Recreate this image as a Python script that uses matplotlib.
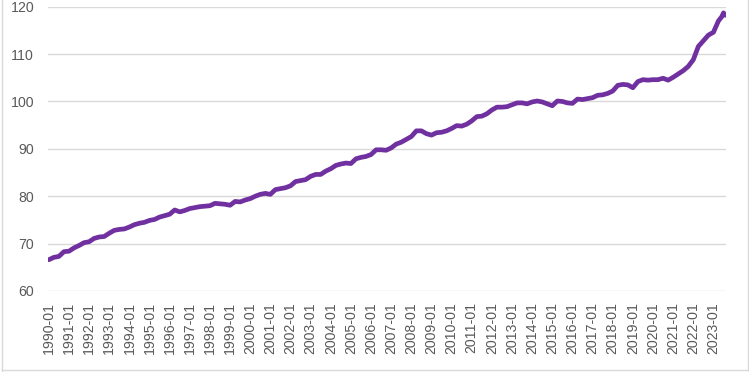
import matplotlib
matplotlib.use("Agg")
import matplotlib.pyplot as plt
from matplotlib.lines import Line2D

# ---- data ----
first_month = "1990-01"
last_month = "2023-08"

sample_months = []
for yr in range(1990, 2023 + 1):
    for mo in ("01", "04", "07", "10"):
        sample_months.append(f"{yr}-{mo}")
sample_months = sample_months[:-1]  # drop 2023-10
sample_months += ["2023-06", "2023-08"]
sample_months = sorted(set(sample_months))

values = [
    66.6, 67.1, 67.3, 68.3,   # 1990
    68.4, 69.1, 69.6, 70.2,   # 1991
    70.4, 71.1, 71.4, 71.5,   # 1992
    72.2, 72.8, 73.0, 73.1,   # 1993
    73.5, 74.0, 74.3, 74.5,   # 1994
    74.9, 75.1, 75.6, 75.9,   # 1995
    76.2, 77.1, 76.7, 77.0,   # 1996
    77.4, 77.6, 77.8, 77.9,   # 1997
    78.0, 78.5, 78.4, 78.3,   # 1998
    78.1, 78.9, 78.8, 79.2,   # 1999
    79.5, 80.0, 80.4, 80.6,   # 2000
    80.4, 81.4, 81.6, 81.8,   # 2001
    82.2, 83.1, 83.3, 83.5,   # 2002
    84.2, 84.6, 84.6, 85.3,   # 2003
    85.8, 86.5, 86.8, 87.0,   # 2004
    86.9, 87.9, 88.2, 88.4,   # 2005
    88.8, 89.8, 89.8, 89.7,   # 2006
    90.2, 91.0, 91.4, 92.0,   # 2007
    92.6, 93.8, 93.8, 93.2,   # 2008
    92.9, 93.4, 93.5, 93.8,   # 2009
    94.3, 94.9, 94.8, 95.2,   # 2010
    95.9, 96.8, 96.9, 97.4,   # 2011
    98.2, 98.8, 98.8, 98.9,   # 2012
    99.3, 99.7, 99.7, 99.5,   # 2013
    99.9, 100.1, 99.9, 99.5,  # 2014
    99.1, 100.1, 100.0, 99.7, # 2015
    99.6, 100.5, 100.4, 100.6,  # 2016
    100.8, 101.3, 101.4, 101.7, # 2017
    102.2, 103.4, 103.6, 103.5, # 2018
    102.9, 104.2, 104.6, 104.5, # 2019
    104.6, 104.6, 104.9, 104.5, # 2020
    105.1, 105.8, 106.5, 107.4, # 2021
    108.8, 111.6, 112.8, 114.0, # 2022
    114.6, 117.0, 117.9, 118.7, 118.2,  # 2023-01,04,06,07,08
]

tick_labels = [f"{yr}-01" for yr in range(1990, 2024)]
y_ticks = [60, 70, 80, 90, 100, 110, 120]


def month_index(s):
    y, m = s.split("-")
    fy, fm = first_month.split("-")
    return (int(y) - int(fy)) * 12 + (int(m) - int(fm))


xs = [month_index(s) for s in sample_months]
n_months = month_index(last_month) + 1

# ---- figure ----
fig = plt.figure(figsize=(7.49, 3.72), dpi=100)
ax = fig.add_axes([48 / 749, 1 - 291 / 372, (726 - 48) / 749, (291 - 6.7) / 372])

ax.plot(xs, values, color="#7030A0", linewidth=3.4, solid_joinstyle="round",
        solid_capstyle="round", zorder=3)

ax.set_xlim(-0.5, n_months - 0.5)
ax.set_ylim(60, 120)
ax.set_yticks(y_ticks)
ax.set_yticklabels([str(v) for v in y_ticks])
ax.set_xticks([month_index(t) for t in tick_labels])
ax.set_xticklabels(tick_labels, rotation=90)

ax.grid(axis="y", color="#D9D9D9", linewidth=1.0, zorder=0)
ax.grid(axis="x", visible=False)
for s in ax.spines.values():
    s.set_visible(False)
ax.tick_params(axis="both", length=0, colors="#595959", labelsize=10.2)
ax.tick_params(axis="y", pad=10)
ax.tick_params(axis="x", pad=8)
for lbl in ax.get_xticklabels() + ax.get_yticklabels():
    lbl.set_fontfamily("Liberation Sans")

# outer chart border (left, bottom, right)
border = dict(color="#D9D9D9", linewidth=1.0, transform=fig.transFigure)
fig.add_artist(Line2D([2 / 749, 2 / 749], [0, 1 - 369.5 / 372 + 1], **border))
fig.add_artist(Line2D([2 / 749, 747.5 / 749], [1 - 369.5 / 372, 1 - 369.5 / 372], **border))
fig.add_artist(Line2D([747.5 / 749, 747.5 / 749], [1 - 369.5 / 372, 1], **border))

fig.savefig("out.png", dpi=100)
